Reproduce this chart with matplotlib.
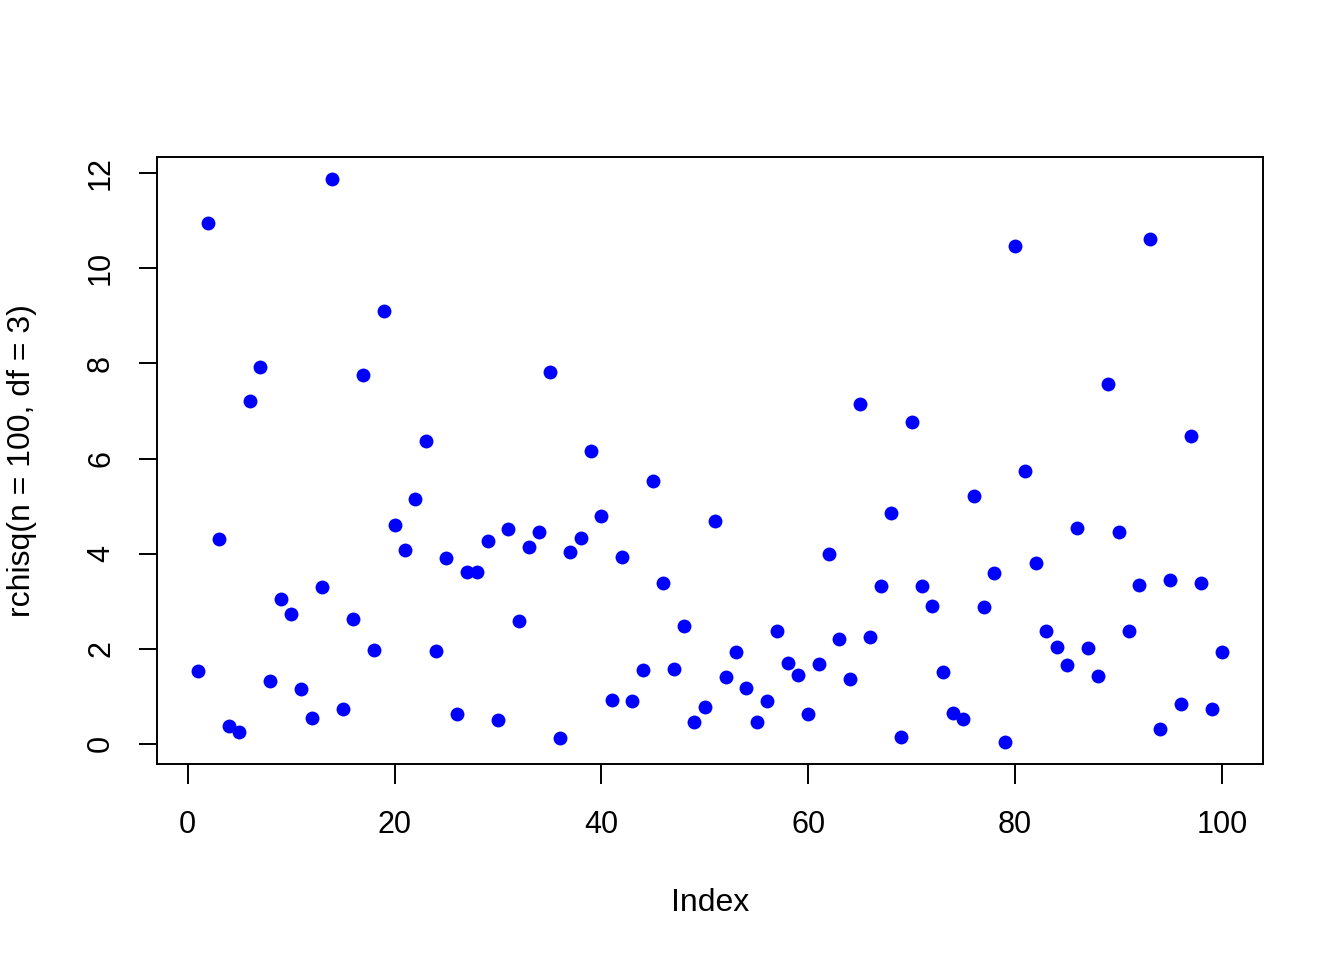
import matplotlib.pyplot as plt
import numpy as np

# -----------------------------
# DATA
# -----------------------------
INDEX = np.arange(1, 101)
VALUES = [
    1.53, 10.95, 4.30, 0.37, 0.25, 7.22, 7.92, 1.32, 3.05, 2.73,
    1.15, 0.55, 3.30, 11.87, 0.73, 2.62, 7.75, 1.97, 9.10, 4.60,
    4.08, 5.15, 6.37, 1.95, 3.92, 0.63, 3.62, 3.62, 4.27, 0.50,
    4.52, 2.58, 4.15, 4.45, 7.83, 0.12, 4.03, 4.32, 6.17, 4.80,
    0.93, 3.93, 0.90, 1.55, 5.53, 3.38, 1.57, 2.48, 0.45, 0.77,
    4.68, 1.40, 1.93, 1.17, 0.47, 0.90, 2.37, 1.70, 1.45, 0.62,
    1.68, 4.00, 2.20, 1.37, 7.15, 2.25, 3.32, 4.85, 0.15, 6.78,
    3.32, 2.90, 1.52, 0.65, 0.52, 5.22, 2.88, 3.60, 0.05, 10.48,
    5.73, 3.80, 2.38, 2.03, 1.65, 4.55, 2.02, 1.42, 7.57, 4.45,
    2.37, 3.35, 10.62, 0.32, 3.45, 0.83, 6.47, 3.38, 0.73, 1.93,
]
X_TICKS = [0, 20, 40, 60, 80, 100]
Y_TICKS = [0, 2, 4, 6, 8, 10, 12]
X_LABEL = "Index"
Y_LABEL = "rchisq(n = 100, df = 3)"

TICK_FONT = 22
LABEL_FONT = 23
plt.rcParams["font.family"] = ["Liberation Sans", "DejaVu Sans"]


def r_limits(vals):
    # R pads the data range by 4% on each side
    lo, hi = float(np.min(vals)), float(np.max(vals))
    pad = 0.04 * (hi - lo)
    return lo - pad, hi + pad


fig = plt.figure(figsize=(13.44, 9.6), dpi=100)
ax = fig.add_axes([157 / 1344, 1 - 764 / 960, (1263 - 157) / 1344, (764 - 157) / 960])

ax.plot(INDEX, VALUES, linestyle="none", marker="o", markersize=10,
        color="#0000FF", markeredgewidth=0)

ax.set_xlim(*r_limits(INDEX))
ax.set_ylim(*r_limits(VALUES))
ax.set_xticks(X_TICKS)
ax.set_yticks(Y_TICKS)
ax.set_yticklabels([str(t) for t in Y_TICKS], rotation=90, va="center")

for s in ax.spines.values():
    s.set_linewidth(1.4)
    s.set_color("black")

ax.tick_params(axis="x", direction="out", length=14.4, width=1.4,
               labelsize=TICK_FONT, pad=19, colors="black")
ax.tick_params(axis="y", direction="out", length=13, width=1.4,
               labelsize=TICK_FONT, pad=16.5, colors="black")

ax.set_xlabel(X_LABEL, fontsize=LABEL_FONT, labelpad=34)
ax.set_ylabel(Y_LABEL, fontsize=LABEL_FONT, labelpad=35)

fig.savefig("out.png", dpi=100)
